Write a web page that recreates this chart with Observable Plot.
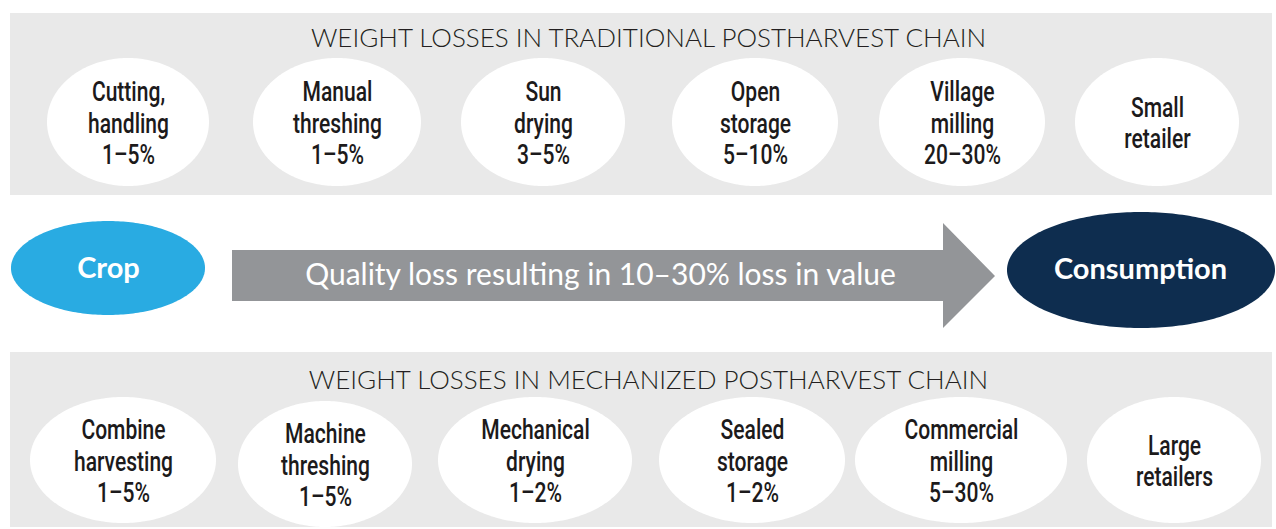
<!DOCTYPE html>
<html><head><meta charset="utf-8">
<script src="https://cdn.jsdelivr.net/npm/d3@7"></script>
<script src="https://cdn.jsdelivr.net/npm/@observablehq/plot@0.6"></script>
<style>body{margin:0;background:#fff}</style>
</head><body><div id="chart"></div>
<script>
// ---- content ----
const traditionalTitle = "WEIGHT LOSSES IN TRADITIONAL POSTHARVEST CHAIN";
const traditionalStages = ["Cutting,\nhandling", "Manual\nthreshing", "Sun\ndrying", "Open\nstorage", "Village\nmilling", "Small\nretailer"];
const traditionalLosses = ["1–5%", "1–5%", "3–5%", "5–10%", "20–30%", ""];
const mechanizedTitle = "WEIGHT LOSSES IN MECHANIZED POSTHARVEST CHAIN";
const mechanizedStages = ["Combine\nharvesting", "Machine\nthreshing", "Mechanical\ndrying", "Sealed\nstorage", "Commercial\nmilling", "Large\nretailers"];
const mechanizedLosses = ["1–5%", "1–5%", "1–2%", "1–2%", "5–30%", ""];
const flowStart = "Crop";
const flowEnd = "Consumption";
const flowNote = "Quality loss resulting in 10–30% loss in value";

// ---- layout (pixels) ----
const topCx = [128, 337, 543, 755, 962, 1157];
const topRx = [81, 84, 82, 83, 83, 82];
const topCy = 122, topRy = 64;
const botCx = [123, 325, 535, 752, 961, 1174];
const botRx = [93, 87, 97, 93, 106, 87];
const botCy = [460, 464, 460, 460, 460, 460];
const botRy = 63;

const colors = {panel: "#e9e9e9", ink: "#231f20", stage: "#1c1a1b", arrow: "#939598", crop: "#29abe2", cons: "#0e2d4f"};
const stageFont = "Roboto, 'Liberation Sans', sans-serif";
const titleFont = "Lato, 'Open Sans', sans-serif";
const stageSqueeze = 0.78;

function ellipse(id, cx, cy, rx, ry, n = 120) {
  const pts = [];
  for (let i = 0; i <= n; i++) {
    const t = Math.PI * i / n;
    const x = cx - rx * Math.cos(t), h = ry * Math.sin(t);
    pts.push({id, x, y1: cy - h, y2: cy + h});
  }
  return pts;
}

const whiteEllipses = [
  ...topCx.flatMap((cx, i) => ellipse("t" + i, cx, topCy, topRx[i], topRy)),
  ...botCx.flatMap((cx, i) => ellipse("b" + i, cx, botCy[i], botRx[i], botRy))
];
const cropEllipse = ellipse("crop", 108, 268, 97, 47);
const consEllipse = ellipse("cons", 1141, 270, 134, 58);

const arrow = [
  {x: 232, y1: 250, y2: 301},
  {x: 943, y1: 250, y2: 301},
  {x: 943, y1: 223, y2: 328},
  {x: 995, y1: 276, y2: 276}
];

const panels = [
  {x1: 10, x2: 1272, y1: 13, y2: 195},
  {x1: 10, x2: 1272, y1: 352, y2: 527}
];

const labels = [
  ...traditionalStages.map((s, i) => ({x: topCx[i], y: topCy, text: traditionalLosses[i] ? s + "\n" + traditionalLosses[i] : s})),
  ...mechanizedStages.map((s, i) => ({x: botCx[i], y: botCy[i], text: mechanizedLosses[i] ? s + "\n" + mechanizedLosses[i] : s}))
];

const chart = Plot.plot({
  width: 1276, height: 529,
  margin: 0,
  x: {domain: [0, 1276], range: [0, 1276], axis: null},
  y: {domain: [0, 529], range: [0, 529], axis: null},
  style: {background: "#fff"},
  marks: [
    Plot.rect(panels, {x1: "x1", x2: "x2", y1: "y1", y2: "y2", fill: colors.panel}),
    Plot.areaY(whiteEllipses, {x: "x", y1: "y1", y2: "y2", z: "id", fill: "#fff"}),
    Plot.areaY(cropEllipse, {x: "x", y1: "y1", y2: "y2", fill: colors.crop}),
    Plot.areaY(consEllipse, {x: "x", y1: "y1", y2: "y2", fill: colors.cons}),
    Plot.areaY(arrow, {x: "x", y1: "y1", y2: "y2", fill: colors.arrow}),
    Plot.text([{x: 648, y: 38, t: traditionalTitle}, {x: 648, y: 380, t: mechanizedTitle}],
      {x: "x", y: "y", text: "t", fontSize: 26, fontWeight: 300, fontFamily: titleFont, fill: colors.ink}),
    Plot.text(labels, {x: "x", y: "y", text: "text", fontSize: 27, fontWeight: 500, lineHeight: 1.17, fontFamily: stageFont, fill: colors.stage, ariaDescription: "stage labels"}),
    Plot.text([{x: 108, y: 268, t: flowStart}], {x: "x", y: "y", text: "t", fontSize: 29, fontWeight: "bold", fontFamily: titleFont, fill: "#fff"}),
    Plot.text([{x: 1140, y: 269, t: flowEnd}], {x: "x", y: "y", text: "t", fontSize: 29, fontWeight: "bold", fontFamily: titleFont, fill: "#fff"}),
    Plot.text([{x: 600, y: 275, t: flowNote}], {x: "x", y: "y", text: "t", fontSize: 30, fontFamily: titleFont, fill: "#fff"})
  ]
});
// condense the stage labels horizontally (narrow typeface look), keeping Plot's own positioning
chart.querySelectorAll('g[aria-description="stage labels"] text').forEach(t => {
  const tr = t.getAttribute("transform") || "";
  t.setAttribute("transform", tr + ` scale(${stageSqueeze},1)`);
});
document.getElementById("chart").append(chart);
</script>
</body></html>
